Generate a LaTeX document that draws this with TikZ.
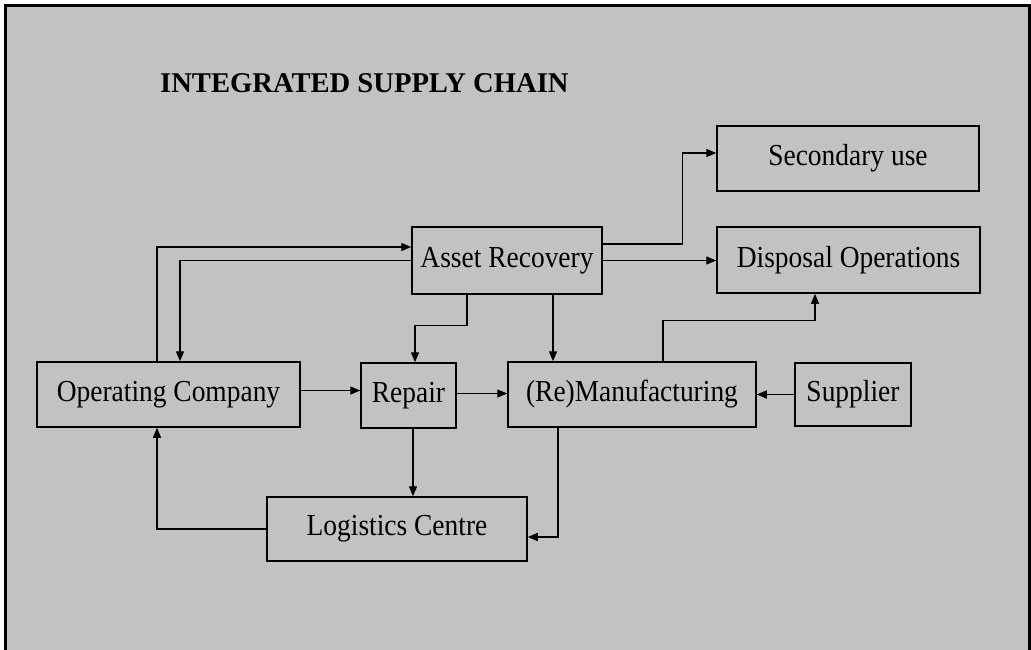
\documentclass[tikz,border=0pt]{standalone}
\usepackage{fontspec}
\setmainfont{Liberation Serif}
\newfontfamily\boxfont{Liberation Serif}[FakeStretch=0.9]
\usetikzlibrary{arrows.meta,calc}
\definecolor{bg}{gray}{0.76}
\tikzset{
  box/.style={draw=black, line width=1.5pt, fill=bg, inner sep=0pt, anchor=center,
    font=\boxfont\fontsize{30.5}{33}\selectfont},
  arr/.style={draw=black, line width=1.4pt, -{Triangle[length=10pt,width=8pt]}},
}
\begin{document}
\begin{tikzpicture}[x=1pt,y=-1pt]
\useasboundingbox (0,0) rectangle (1031,649);
\fill[bg] (5,5) rectangle (1029,652);
\draw[line width=3pt] (5,652) -- (5,5) -- (1029,5) -- (1029,652);
\node[anchor=west, inner sep=0pt, font=\fontsize{28.6}{31}\selectfont\bfseries] (title) at (160,83) {INTEGRATED SUPPLY CHAIN};
\node[box, minimum width=262pt, minimum height=65pt] (sec) at (848,158.5) {Secondary use};
\node[box, minimum width=263pt, minimum height=66pt] (disp) at (848.5,260) {Disposal Operations};
\node[box, minimum width=190pt, minimum height=67pt] (ar) at (507,260.5) {Asset Recovery};
\node[box, minimum width=263pt, minimum height=65pt] (oc) at (168.5,394.5) {Operating Company};
\node[box, minimum width=95pt, minimum height=65pt] (rep) at (408.5,395.5) {Repair};
\node[box, minimum width=248pt, minimum height=65pt] (rem) at (632,394.5) {(Re)Manufacturing};
\node[box, minimum width=116pt, minimum height=63pt] (sup) at (853,394.5) {Supplier};
\node[box, minimum width=260pt, minimum height=64pt] (log) at (397,529) {Logistics Centre};
% connectors
\draw[arr] ([xshift=-11.5pt]oc.north) |- ([yshift=13.5pt]ar.west);
\draw[arr] (ar.west) -| ([xshift=11.5pt]oc.north);
\draw[arr] ([xshift=-40pt]ar.south) -- ++(0,31) -| ([xshift=6.5pt]rep.north);
\draw[arr] ([xshift=46pt]ar.south) -- ([xshift=46pt]ar.south |- rem.north);
\draw[arr] ([yshift=16.5pt]ar.east) -- ++(80,0) |- ([yshift=5.5pt]sec.west);
\draw[arr] (ar.east) -- (ar.east -| disp.west);
\draw[arr] ([xshift=31pt]rem.north) -- ++(0,-41) -| ([xshift=-33.5pt]disp.south);
\draw[arr] (sup.west) -- (sup.west -| rem.east);
\draw[arr] ([yshift=4pt]oc.east) -- ([yshift=4pt]oc.east -| rep.west);
\draw[arr] ([yshift=2pt]rep.east) -- ([yshift=2pt]rep.east -| rem.west);
\draw[arr] ([xshift=4.5pt]rep.south) -- ([xshift=4.5pt]rep.south |- log.north);
\draw[arr] ([xshift=-74pt]rem.south) |- ([yshift=-8pt]log.east);
\draw[arr] (log.west) -| ([xshift=-11.5pt]oc.south);
\end{tikzpicture}
\end{document}
